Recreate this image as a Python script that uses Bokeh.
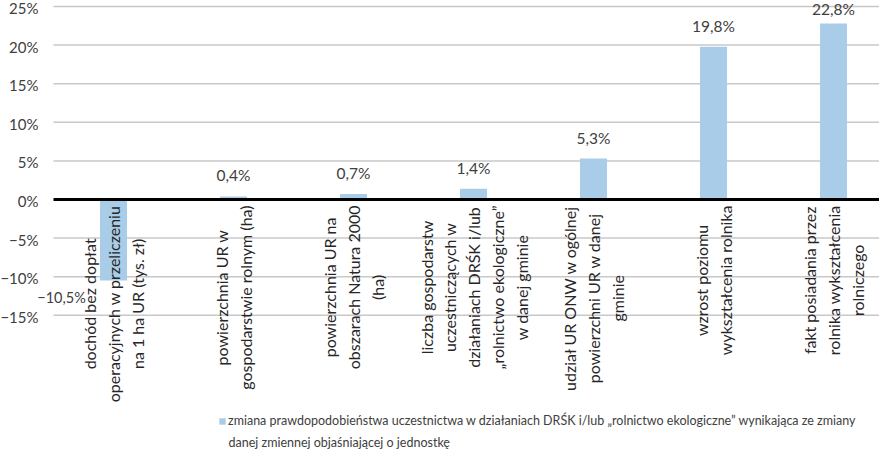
import numpy as np
from bokeh.plotting import figure
from bokeh.models import Range1d, ColumnDataSource, Legend, LegendItem, Label
from bokeh.core.properties import value
from bokeh.embed import file_html
from bokeh.resources import INLINE

categories = [
    "dochód bez dopłat\noperacyjnych w przeliczeniu\nna 1 ha UR (tys. zł)",
    "powierzchnia UR w\ngospodarstwie rolnym (ha)",
    "powierzchnia UR na\nobszarach Natura 2000\n(ha)",
    "liczba gospodarstw\nuczestniczących w\ndziałaniach DRŚK i/lub\n„rolnictwo ekologiczne”\nw danej gminie",
    "udział UR ONW w ogólnej\npowierzchni UR w danej\ngminie",
    "wzrost poziomu\nwykształcenia rolnika",
    "fakt posiadania przez\nrolnika wykształcenia\nrolniczego",
]
values = [-10.5, 0.4, 0.7, 1.4, 5.3, 19.8, 22.8]
value_labels = ["−10,5%", "0,4%", "0,7%", "1,4%", "5,3%", "19,8%", "22,8%"]
y_ticks = [-15, -10, -5, 0, 5, 10, 15, 20, 25]
y_tick_labels = ["−15%", "−10%", "−5%", "0%", "5%", "10%", "15%", "20%", "25%"]
series_line1 = ("zmiana prawdopodobieństwa uczestnictwa w działaniach DRŚK i/lub "
                "„rolnictwo ekologiczne” wynikająca ze zmiany")
series_line2 = "danej zmiennej objaśniającej o jednostkę"

FONT = "Lato"
BAR_COLOR = "#a9cde8"
LABEL_CAP = 22.0  # keep the top value label inside the chart
X_START, X_END = -0.4417, 6.883

xs = np.arange(len(categories)) + 0.5
src = ColumnDataSource(dict(x=xs, top=values, lab=value_labels, cat=categories))
pos_src = ColumnDataSource(dict(x=[x for x, v in zip(xs, values) if v >= 0],
                                y=[min(v, LABEL_CAP) for v in values if v >= 0],
                                lab=[l for l, v in zip(value_labels, values) if v >= 0]))
neg_src = ColumnDataSource(dict(x=[x for x, v in zip(xs, values) if v < 0],
                                y=[v for v in values if v < 0],
                                lab=[l for l, v in zip(value_labels, values) if v < 0]))
grid_src = ColumnDataSource(dict(y=[t for t in y_ticks if t != 0],
                                 x0=[0] * (len(y_ticks) - 1),
                                 x1=[X_END] * (len(y_ticks) - 1)))
tick_src = ColumnDataSource(dict(x=[0] * len(y_ticks), y=y_ticks, lab=y_tick_labels))

p = figure(width=879, height=450, x_range=Range1d(X_START, X_END), y_range=Range1d(-32.513, 25.777),
           output_backend="svg", toolbar_location=None, x_axis_location=None, y_axis_location=None,
           min_border_left=0, min_border_right=0, min_border_top=0, min_border_bottom=0)
p.outline_line_color = None
p.xgrid.visible = False
p.ygrid.visible = False
p.background_fill_color = "white"

# y tick labels
p.text(x="x", y="y", text="lab", source=tick_src, text_align="right", text_baseline="middle",
       x_offset=-15, y_offset=1.5, text_font=value(FONT), text_font_size="15px", text_color="#404040")

# gridlines
p.segment(x0="x0", x1="x1", y0="y", y1="y", source=grid_src, line_color="#c8c8c8", line_width=1.5)

bars = p.vbar(x="x", top="top", bottom=0, width=0.225, source=src,
              fill_color=BAR_COLOR, line_color=None)

# zero axis line
p.segment(x0=[0], x1=[X_END], y0=[0], y1=[0], line_color="#000000", line_width=3)

p.text(x="x", y="y", text="lab", source=pos_src, text_align="center", text_baseline="bottom",
       y_offset=-12, text_font=value(FONT), text_font_size="15.5px", text_color="#404040")
p.text(x="x", y="y", text="lab", source=neg_src, text_align="center", text_baseline="middle",
       x_offset=-52, y_offset=17, text_font=value(FONT), text_font_size="14.5px", text_color="#404040")

p.text(x="x", y=0, text="cat", source=src, angle=np.pi / 2, text_align="center",
       anchor=value("center_right"), y_offset=6, text_line_height=1.25,
       text_font=value(FONT), text_font_size="16px", text_color="#262626")

legend = Legend(items=[LegendItem(label=series_line1, renderers=[bars])], location=(218, 22))
legend.padding = 0
legend.margin = 0
legend.border_line_color = None
legend.background_fill_alpha = 0
legend.glyph_width = 8
legend.glyph_height = 8
legend.label_standoff = 2
legend.label_text_font = FONT
legend.label_text_font_size = "12.5px"
legend.label_text_color = "#404040"
p.add_layout(legend)

p.add_layout(Label(x=228, y=8, x_units="screen", y_units="screen", text=series_line2,
                   text_baseline="middle", text_font=FONT, text_font_size="12.5px",
                   text_color="#404040"))

open("out.html", "w").write(file_html(p, INLINE))
